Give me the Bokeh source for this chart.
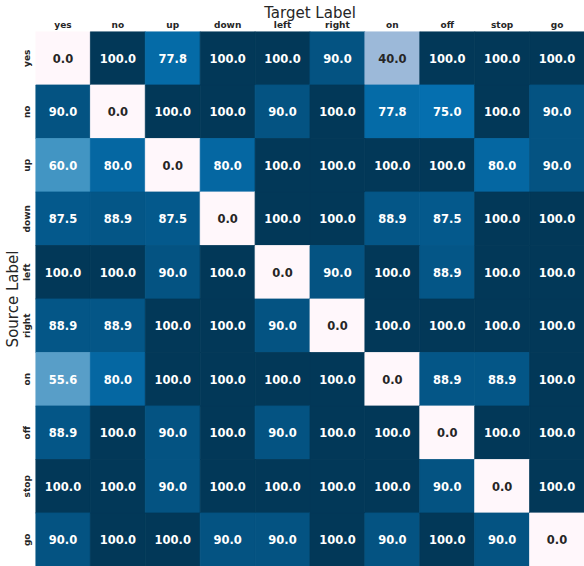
import numpy as np
from bokeh.plotting import figure
from bokeh.models import ColumnDataSource, LinearColorMapper, FactorRange
from bokeh.core.properties import value
from bokeh.embed import file_html
from bokeh.resources import INLINE

labels = ["yes", "no", "up", "down", "left", "right", "on", "off", "stop", "go"]

row_yes = [0.0, 100.0, 77.8, 100.0, 100.0, 90.0, 40.0, 100.0, 100.0, 100.0]
row_no = [90.0, 0.0, 100.0, 100.0, 90.0, 100.0, 77.8, 75.0, 100.0, 90.0]
row_up = [60.0, 80.0, 0.0, 80.0, 100.0, 100.0, 100.0, 100.0, 80.0, 90.0]
row_down = [87.5, 88.9, 87.5, 0.0, 100.0, 100.0, 88.9, 87.5, 100.0, 100.0]
row_left = [100.0, 100.0, 90.0, 100.0, 0.0, 90.0, 100.0, 88.9, 100.0, 100.0]
row_right = [88.9, 88.9, 100.0, 100.0, 90.0, 0.0, 100.0, 100.0, 100.0, 100.0]
row_on = [55.6, 80.0, 100.0, 100.0, 100.0, 100.0, 0.0, 88.9, 88.9, 100.0]
row_off = [88.9, 100.0, 90.0, 100.0, 90.0, 100.0, 100.0, 0.0, 100.0, 100.0]
row_stop = [100.0, 100.0, 90.0, 100.0, 100.0, 100.0, 100.0, 90.0, 0.0, 100.0]
row_go = [90.0, 100.0, 100.0, 90.0, 90.0, 100.0, 90.0, 100.0, 90.0, 0.0]

rows = [row_yes, row_no, row_up, row_down, row_left, row_right,
        row_on, row_off, row_stop, row_go]

# PuBu colormap (Brewer 9-class), interpolated to 256 steps
pubu = ["#fff7fb", "#ece7f2", "#d0d1e6", "#a6bddb", "#74a9cf",
        "#3690c0", "#0570b0", "#045a8d", "#023858"]
anchors = np.array([[int(c[i:i + 2], 16) for i in (1, 3, 5)] for c in pubu], float)
pos = np.linspace(0, 1, len(pubu))
t = np.linspace(0, 1, 256)
rgb = np.stack([np.interp(t, pos, anchors[:, k]) for k in range(3)], axis=1)
palette = ["#%02x%02x%02x" % tuple(int(round(v)) for v in c) for c in rgb]

vmin, vmax = 0.0, 100.0


def text_color(v):
    idx = int(np.clip((v - vmin) / (vmax - vmin) * 255, 0, 255))
    c = rgb[idx] / 255.0
    lin = np.where(c <= 0.03928, c / 12.92, ((c + 0.055) / 1.055) ** 2.4)
    lum = 0.2126 * lin[0] + 0.7152 * lin[1] + 0.0722 * lin[2]
    return "#ffffff" if lum < 0.408 else "#262626"


xs, ys, vals, txt, tcol = [], [], [], [], []
for src, row in zip(labels, rows):
    for tgt, v in zip(labels, row):
        xs.append(tgt)
        ys.append(src)
        vals.append(v)
        txt.append("%.1f" % v)
        tcol.append(text_color(v))

source = ColumnDataSource(dict(x=xs, y=ys, v=vals, t=txt, c=tcol))
mapper = LinearColorMapper(palette=palette, low=vmin, high=vmax)

p = figure(width=584, height=566,
           x_range=FactorRange(*labels),
           y_range=FactorRange(*labels[::-1]),
           x_axis_location="above",
           output_backend="svg", toolbar_location=None,
           min_border_left=0, min_border_right=0,
           min_border_top=0, min_border_bottom=0)

p.rect(x="x", y="y", width=1, height=1, source=source,
       fill_color={"field": "v", "transform": mapper},
       line_color={"field": "v", "transform": mapper}, line_width=0.8)
p.text(x="x", y="y", text="t", source=source, text_color="c",
       text_align="center", text_baseline="middle",
       text_font=value("DejaVu Sans"), text_font_style="bold",
       text_font_size="11.5px")

p.grid.visible = False
p.outline_line_color = None
p.background_fill_color = "white"

for ax in (p.xaxis[0], p.yaxis[0]):
    ax.axis_line_color = None
    ax.major_tick_line_color = None
    ax.minor_tick_line_color = None
    ax.major_tick_out = 0
    ax.major_tick_in = 0
    ax.major_label_text_font = "DejaVu Sans"
    ax.major_label_text_font_style = "bold"
    ax.major_label_text_font_size = "9px"
    ax.major_label_text_color = "#262626"
    ax.axis_label_text_font = "DejaVu Sans"
    ax.axis_label_text_font_style = "normal"
    ax.axis_label_text_font_size = "15px"
    ax.axis_label_text_color = "#262626"

p.xaxis[0].major_label_standoff = 2
p.xaxis[0].axis_label_standoff = -5
p.yaxis[0].major_label_standoff = 4
p.yaxis[0].axis_label_standoff = -3
p.xaxis.axis_label = "Target Label"
p.yaxis.axis_label = "Source Label"
p.yaxis.major_label_orientation = "vertical"

open("out.html", "w").write(file_html(p, INLINE))
